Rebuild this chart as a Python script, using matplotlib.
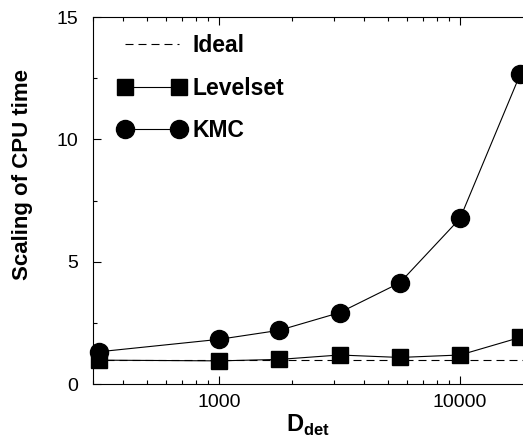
import numpy as np
import matplotlib
matplotlib.use('Agg')
import matplotlib.pyplot as plt
from matplotlib.ticker import FixedLocator, LogLocator, NullFormatter, FixedFormatter

plt.rcParams['font.family'] = ['Liberation Sans', 'DejaVu Sans']
plt.rcParams['mathtext.fontset'] = 'custom'
plt.rcParams['mathtext.rm'] = 'Liberation Sans'
plt.rcParams['mathtext.bf'] = 'Liberation Sans:bold'

# 数据
d_det = [316, 1000, 1778, 3162, 5623, 10000, 17783]
kmc = [1.32, 1.83, 2.2, 2.92, 4.14, 6.77, 12.67]
levelset = [0.98, 0.95, 1.01, 1.19, 1.09, 1.19, 1.91]
ideal = [1, 1]
ideal_x = [300, 18250]

fig = plt.figure(figsize=(5.23, 4.37), dpi=100)
ax = fig.add_axes([0.178, 0.121, 0.822, 0.840])

ax.plot(ideal_x, ideal, color='black', lw=0.8, ls=(0, (7.2, 4.5)), label='Ideal')
ax.plot(d_det, levelset, color='black', lw=0.8, marker='s', ms=11,
        label='Levelset', clip_on=False)
ax.plot(d_det, kmc, color='black', lw=0.8, marker='o', ms=13,
        label='KMC', clip_on=False)

ax.set_xscale('log')
ax.set_xlim(300, 18250)
ax.set_ylim(0, 15)

ax.xaxis.set_major_locator(FixedLocator([1000, 10000]))
ax.xaxis.set_major_formatter(FixedFormatter(['1000', '10000']))
ax.xaxis.set_minor_locator(LogLocator(base=10, subs=np.arange(2, 10), numticks=20))
ax.xaxis.set_minor_formatter(NullFormatter())
ax.set_yticks([0, 5, 10, 15])
ax.set_yticks([2.5, 7.5, 12.5], minor=True)

ax.tick_params(which='both', direction='in', top=True, right=False, labelsize=14)
ax.tick_params(which='major', length=6, width=0.8)
ax.tick_params(which='minor', length=3, width=0.8)
ax.tick_params(axis='y', pad=11)
ax.tick_params(axis='x', pad=7)
ax.spines['right'].set_visible(False)
for s in ['left', 'top', 'bottom']:
    ax.spines[s].set_linewidth(0.8)

ax.set_xlabel(r'$\mathbf{D}_{\mathbf{det}}$', fontsize=17, labelpad=1.5)
ax.set_ylabel('Scaling of CPU time', fontsize=16, fontweight='bold')
ax.yaxis.set_label_coords(-0.14, 0.57)

leg = ax.legend(loc='upper left', bbox_to_anchor=(0.019, 1.0), frameon=False,
                numpoints=2, prop={'weight': 'bold', 'size': 16.5},
                handlelength=2.95, labelspacing=0.85, handletextpad=0.27,
                borderaxespad=0.35)

plt.savefig('out.png', dpi=100)
